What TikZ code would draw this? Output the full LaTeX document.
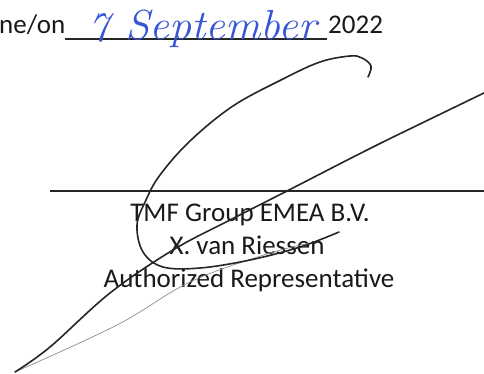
\documentclass[tikz,border=0pt]{standalone}
\usepackage{fontspec}
\setmainfont{Carlito}
\newfontfamily\handfont{Latin Modern Roman}
\definecolor{ink}{RGB}{55,85,215}
\definecolor{txt}{RGB}{25,25,25}
\begin{document}
\begin{tikzpicture}[x=1pt,y=-1pt,
  sig/.style={line width=1.6pt,color=black!85,line cap=round,line join=round},
  faint/.style={line width=0.7pt,color=black!45,line cap=round},
  rule/.style={line width=1.3pt,color=black!85},
  label/.style={font=\fontsize{27}{30}\selectfont,text=txt,inner sep=0pt},
  hand/.style={font=\fontsize{42}{44}\selectfont\handfont\itshape,text=ink,inner sep=0pt,anchor=base west}]
\useasboundingbox (0,0) rectangle (484,374);
% top line
\node[label,anchor=base west] (neon) at (-1,34) {ne/on};
\node[label,anchor=base west] (year) at (328,34) {2022};
\coordinate (ul1) at (65,39);
\coordinate (ul2) at (327,39);
\draw[rule] (ul1) -- (ul2);
\node[hand] (seven) at (88,42) {7};
\node[hand,xscale=1.05] (month) at (125,40) {September};
% signature line
\coordinate (sl1) at (50,191);
\coordinate (sl2) at (484,191);
\draw[rule] (sl1) -- (sl2);
\node[label,anchor=base] (co) at (250,221) {TMF Group EMEA B.V.};
\node[label,anchor=base] (nm) at (247,254) {X. van Riessen};
\node[label,anchor=base] (ti) at (249,287) {Authorized Representative};
% signature strokes
\draw[faint] plot[smooth,tension=0.6] coordinates {(15,372) (117,325) (190,282) (267,254) (310,243)};
\draw[sig] plot[smooth,tension=0.6] coordinates {(368,77) (371,66) (362,58) (350,56) (320,62) (283,79) (233,106) (190,141) (160,175) (146,200) (137,225) (143,252) (163,267) (200,268) (250,260) (300,247) (339,232)};
\draw[sig] plot[smooth,tension=0.6] coordinates {(486,92) (420,124) (367,150) (287,191) (230,220) (173,250) (110,293) (50,347) (15,372)};
\end{tikzpicture}
\end{document}
